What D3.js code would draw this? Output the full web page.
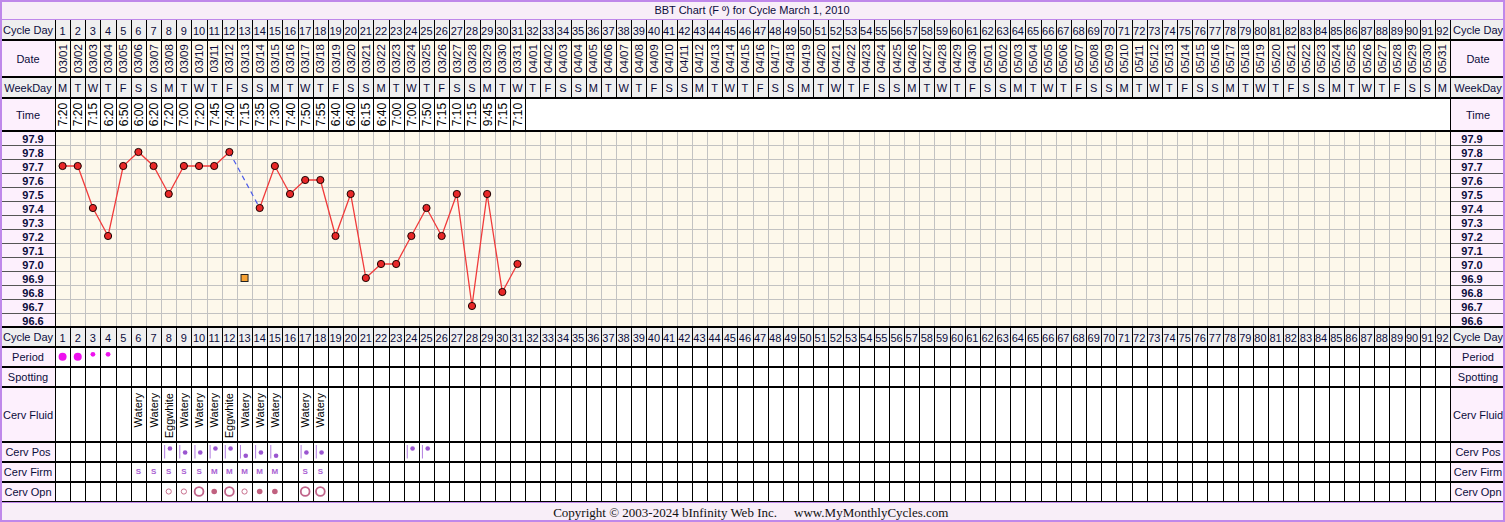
<!DOCTYPE html>
<html>
<head>
<meta charset="utf-8">
<script src="https://cdn.jsdelivr.net/npm/d3@7"></script>
<style>
  html, body { margin: 0; padding: 0; background: #fff; }
  svg { display: block; font-family: "Liberation Sans", Arial, sans-serif; }
</style>
</head>
<body>
<svg id="chart" width="1505" height="522"></svg>
<script>
// ---- Chart data -------------------------------------------------------
const title = "BBT Chart (F º) for Cycle March 1, 2010";
const cycleDays = d3.range(1, 93);
const dates = [
  "03/01","03/02","03/03","03/04","03/05","03/06","03/07","03/08","03/09","03/10",
  "03/11","03/12","03/13","03/14","03/15","03/16","03/17","03/18","03/19","03/20",
  "03/21","03/22","03/23","03/24","03/25","03/26","03/27","03/28","03/29","03/30","03/31",
  "04/01","04/02","04/03","04/04","04/05","04/06","04/07","04/08","04/09","04/10",
  "04/11","04/12","04/13","04/14","04/15","04/16","04/17","04/18","04/19","04/20",
  "04/21","04/22","04/23","04/24","04/25","04/26","04/27","04/28","04/29","04/30",
  "05/01","05/02","05/03","05/04","05/05","05/06","05/07","05/08","05/09","05/10",
  "05/11","05/12","05/13","05/14","05/15","05/16","05/17","05/18","05/19","05/20",
  "05/21","05/22","05/23","05/24","05/25","05/26","05/27","05/28","05/29","05/30","05/31"
];
const weekDays = "MTWTFSSMTWTFSSMTWTFSSMTWTFSSMTWTFSSMTWTFSSMTWTFSSMTWTFSSMTWTFSSMTWTFSSMTWTFSSMTWTFSSMTWTFSSM".split("");
const times = [
  "7:20","7:20","7:15","6:20","6:50","6:00","6:20","7:20","7:00","7:20",
  "7:45","7:40","7:15","7:35","7:30","7:40","7:50","7:55","6:40","6:40",
  "6:15","6:40","7:00","7:00","7:50","7:15","7:10","7:15","9:45","7:15","7:10"
];
const tempTicks = ["97.9","97.8","97.7","97.6","97.5","97.4","97.3","97.2","97.1","97.0","96.9","96.8","96.7","96.6"];
// temperature per cycle day (null = not used in the line)
const temps = [
  97.7, 97.7, 97.4, 97.2, 97.7, 97.8, 97.7, 97.5, 97.7, 97.7,
  97.7, 97.8, null, 97.4, 97.7, 97.5, 97.6, 97.6, 97.2, 97.5,
  96.9, 97.0, 97.0, 97.2, 97.4, 97.2, 97.5, 96.7, 97.5, 96.8, 97.0
];
const excludedTemps = [{ day: 13, temp: 96.9 }];
const periodDays = [{ day: 1, flow: "heavy" }, { day: 2, flow: "heavy" }, { day: 3, flow: "light" }, { day: 4, flow: "light" }];
const cervFluid = [
  { day: 6, v: "Watery" }, { day: 7, v: "Watery" }, { day: 8, v: "Eggwhite" }, { day: 9, v: "Watery" },
  { day: 10, v: "Watery" }, { day: 11, v: "Watery" }, { day: 12, v: "Eggwhite" }, { day: 13, v: "Watery" },
  { day: 14, v: "Watery" }, { day: 15, v: "Watery" }, { day: 17, v: "Watery" }, { day: 18, v: "Watery" }
];
const cervPos = [
  { day: 8, v: "high" }, { day: 9, v: "mid" }, { day: 10, v: "mid" }, { day: 11, v: "high" },
  { day: 12, v: "high" }, { day: 13, v: "low" }, { day: 14, v: "mid" }, { day: 15, v: "low" },
  { day: 17, v: "mid" }, { day: 18, v: "mid" }, { day: 24, v: "high" }, { day: 25, v: "high" }
];
const cervFirm = [
  { day: 6, v: "S" }, { day: 7, v: "S" }, { day: 8, v: "S" }, { day: 9, v: "S" }, { day: 10, v: "S" },
  { day: 11, v: "M" }, { day: 12, v: "M" }, { day: 13, v: "M" }, { day: 14, v: "M" }, { day: 15, v: "M" },
  { day: 17, v: "S" }, { day: 18, v: "S" }
];
const cervOpn = [
  { day: 8, v: "small" }, { day: 9, v: "small" }, { day: 10, v: "large" }, { day: 11, v: "closed" },
  { day: 12, v: "large" }, { day: 13, v: "small" }, { day: 14, v: "closed" }, { day: 15, v: "closed" },
  { day: 17, v: "large" }, { day: 18, v: "large" }
];
const copyright = "Copyright © 2003-2024 bInfinity Web Inc.";
const siteName = "www.MyMonthlyCycles.com";

// ---- Layout -----------------------------------------------------------
const W = 1505, H = 522;
const gridL = 55, gridR = 1450, outerR = 1503;
const ink = "#0c0c3c", pink = "#fdf0fd", cream = "#fdf8eb", gray = "#efefef", purple = "#bf88ea";
const tempTop = 131, tempBottom = 327;

const svg = d3.select("#chart");
const x = d3.scaleBand().domain(cycleDays).range([gridL, gridR]).padding(0);
const edge = i => Math.round(gridL + i * x.bandwidth());
const cx = d => x(d) + x.bandwidth() / 2;
const y = d3.scaleLinear().domain([96.55, 97.95]).range([tempBottom, tempTop]);

const rows = [
  { id: "cd",   label: "Cycle Day",  y0: 20,  y1: 40,  lbg: gray, cbg: gray },
  { id: "date", label: "Date",       y0: 40,  y1: 77,  lbg: pink, cbg: cream },
  { id: "wd",   label: "WeekDay",    y0: 77,  y1: 98,  lbg: gray, cbg: gray },
  { id: "time", label: "Time",       y0: 98,  y1: 131, lbg: pink, cbg: "#fff", upTo: times.length },
  { id: "cd2",  label: "Cycle Day",  y0: 327, y1: 347, lbg: gray, cbg: gray },
  { id: "per",  label: "Period",     y0: 347, y1: 367, lbg: pink, cbg: "#fff" },
  { id: "spot", label: "Spotting",   y0: 367, y1: 387, lbg: pink, cbg: "#fff" },
  { id: "cf",   label: "Cerv Fluid", y0: 387, y1: 442, lbg: pink, cbg: "#fff" },
  { id: "cp",   label: "Cerv Pos",   y0: 442, y1: 462, lbg: pink, cbg: "#fff" },
  { id: "cfi",  label: "Cerv Firm",  y0: 462, y1: 482, lbg: pink, cbg: "#fff" },
  { id: "co",   label: "Cerv Opn",   y0: 482, y1: 502, lbg: pink, cbg: "#fff" }
];

// page background, title bar and footer
svg.append("rect").attr("width", W).attr("height", H).attr("fill", "#fff");
svg.append("rect").attr("x", 0).attr("y", 0).attr("width", W).attr("height", 20).attr("fill", "#f8eef8");
svg.append("rect").attr("x", 0).attr("y", 502).attr("width", W).attr("height", 20).attr("fill", "#f8eef8");

// table rows: label cells and day cells
const gRows = svg.append("g");
rows.forEach(r => {
  gRows.append("rect").attr("x", 2).attr("y", r.y0).attr("width", gridL - 2).attr("height", r.y1 - r.y0).attr("fill", r.lbg);
  gRows.append("rect").attr("x", gridR).attr("y", r.y0).attr("width", outerR - gridR).attr("height", r.y1 - r.y0).attr("fill", r.lbg);
  gRows.append("rect").attr("x", gridL).attr("y", r.y0).attr("width", gridR - gridL).attr("height", r.y1 - r.y0).attr("fill", r.cbg);
  [28, 1478].forEach(lx => {
    gRows.append("text").attr("x", lx).attr("y", (r.y0 + r.y1) / 2 + 4)
      .attr("text-anchor", "middle").attr("font-size", 11).attr("fill", ink).text(r.label);
  });
});

// temperature area
svg.append("rect").attr("x", gridL).attr("y", tempTop).attr("width", gridR - gridL).attr("height", tempBottom - tempTop).attr("fill", cream);
svg.append("rect").attr("x", 2).attr("y", tempTop).attr("width", gridL - 2).attr("height", tempBottom - tempTop).attr("fill", pink);
svg.append("rect").attr("x", gridR).attr("y", tempTop).attr("width", outerR - gridR).attr("height", tempBottom - tempTop).attr("fill", pink);

const gGrid = svg.append("g").attr("stroke", "#c2c2c2").attr("stroke-width", 1).attr("shape-rendering", "crispEdges");
d3.range(0, 93).forEach(i => {
  gGrid.append("line").attr("x1", edge(i) + 0.5).attr("x2", edge(i) + 0.5).attr("y1", tempTop).attr("y2", tempBottom);
});
tempTicks.forEach((t, k) => {
  const yy = Math.round(y(+t - 0.05)) + 0.5;
  if (k < tempTicks.length - 1)
    gGrid.append("line").attr("x1", gridL).attr("x2", gridR).attr("y1", yy).attr("y2", yy);
});
// temperature tick labels on both sides
const gTicks = svg.append("g");
tempTicks.forEach((t, k) => {
  const yy = Math.round(y(+t - 0.05)) + 0.5;
  if (k < tempTicks.length - 1) {
    gTicks.append("line").attr("x1", 2).attr("x2", gridL).attr("y1", yy).attr("y2", yy).attr("stroke", "#555").attr("shape-rendering", "crispEdges");
    gTicks.append("line").attr("x1", gridR).attr("x2", outerR).attr("y1", yy).attr("y2", yy).attr("stroke", "#555").attr("shape-rendering", "crispEdges");
  }
  [33, 1472].forEach(lx => {
    gTicks.append("text").attr("x", lx).attr("y", y(+t) + 4.5).attr("text-anchor", "middle")
      .attr("font-size", 11).attr("font-weight", "bold").attr("fill", ink).text(t);
  });
});

// vertical cell separators in table rows
const gV = svg.append("g").attr("stroke", "#000").attr("stroke-width", 1).attr("shape-rendering", "crispEdges");
rows.forEach(r => {
  const n = r.upTo || 92;
  d3.range(0, n + 1).forEach(i => {
    gV.append("line").attr("x1", edge(i) + 0.5).attr("x2", edge(i) + 0.5).attr("y1", r.y0).attr("y2", r.y1);
  });
  gV.append("line").attr("x1", gridR + 0.5).attr("x2", gridR + 0.5).attr("y1", r.y0).attr("y2", r.y1);
});
gV.append("line").attr("x1", gridL + 0.5).attr("x2", gridL + 0.5).attr("y1", tempTop).attr("y2", tempBottom);
gV.append("line").attr("x1", gridR + 0.5).attr("x2", gridR + 0.5).attr("y1", tempTop).attr("y2", tempBottom);

// horizontal row borders
const gH = svg.append("g").attr("stroke", "#000").attr("stroke-width", 2).attr("shape-rendering", "crispEdges");
[40, 77, 98, 131, 327, 347, 367, 387, 442, 462, 482].forEach(yy => {
  gH.append("line").attr("x1", 2).attr("x2", outerR).attr("y1", yy).attr("y2", yy);
});
gH.append("line").attr("x1", 2).attr("x2", outerR).attr("y1", 501).attr("y2", 501).attr("stroke-width", 1);

// ---- header contents ----
const txt = (g, xx, yy, s, size) => g.append("text").attr("x", xx).attr("y", yy).attr("text-anchor", "middle")
  .attr("font-size", size).attr("fill", ink).text(s);
const gHead = svg.append("g");
cycleDays.forEach((d, i) => {
  txt(gHead, cx(d), 34.5, d, 11);
  txt(gHead, cx(d), 341.5, d, 11);
  txt(gHead, cx(d), 92, weekDays[i], 11);
  gHead.append("text").attr("transform", `translate(${cx(d) + 4},58.5) rotate(-90)`)
    .attr("text-anchor", "middle").attr("font-size", 11.5).attr("fill", ink).text(dates[i]);
});
times.forEach((t, i) => {
  const d = cycleDays[i];
  gHead.append("text").attr("transform", `translate(${cx(d) + 4.5},114.5) rotate(-90)`)
    .attr("text-anchor", "middle").attr("font-size", 12).attr("fill", "#000").text(t);
});

// ---- temperature line ----
const tempPts = temps.map((t, i) => ({ day: cycleDays[i], temp: t }));
const valid = tempPts.filter(p => p.temp !== null);
const gPlot = svg.append("g");
// dashed connector across skipped days
for (let i = 0; i < tempPts.length - 1; i++) {
  if (tempPts[i].temp !== null && tempPts[i + 1].temp === null) {
    const next = tempPts.slice(i + 1).find(p => p.temp !== null);
    if (next) {
      gPlot.append("line").attr("x1", cx(tempPts[i].day)).attr("y1", y(tempPts[i].temp))
        .attr("x2", cx(next.day)).attr("y2", y(next.temp))
        .attr("stroke", "#4a5ae8").attr("stroke-width", 1.2).attr("stroke-dasharray", "5,4");
    }
  }
}
const line = d3.line().defined(p => p.temp !== null).x(p => cx(p.day)).y(p => y(p.temp));
gPlot.append("path").attr("d", line(tempPts)).attr("fill", "none").attr("stroke", "#f03a3a").attr("stroke-width", 1.3);
gPlot.selectAll("circle.t").data(valid).join("circle").attr("class", "t")
  .attr("cx", p => cx(p.day)).attr("cy", p => y(p.temp)).attr("r", 3.6)
  .attr("fill", "#e82828").attr("stroke", "#1a0000").attr("stroke-width", 1);
gPlot.selectAll("rect.ex").data(excludedTemps).join("rect").attr("class", "ex")
  .attr("x", p => cx(p.day) - 3.5).attr("y", p => y(p.temp) - 3.5).attr("width", 7).attr("height", 7)
  .attr("fill", "#f7a233").attr("stroke", "#222").attr("stroke-width", 1);

// ---- period ----
const gPer = svg.append("g").attr("fill", "#ee11ee");
periodDays.forEach(p => {
  const heavy = p.flow === "heavy";
  gPer.append("circle").attr("cx", cx(p.day)).attr("cy", heavy ? 356.7 : 354.3).attr("r", heavy ? 4 : 2.4);
});

// ---- cervical fluid ----
const gCF = svg.append("g");
cervFluid.forEach(c => {
  gCF.append("text").attr("transform", `translate(${cx(c.day) + 4},393) rotate(-90)`)
    .attr("text-anchor", "end").attr("font-size", 11).attr("fill", "#000").text(c.v);
});

// ---- cervical position ----
const posY = { high: 448.5, mid: 452.5, low: 455.8 };
const gCP = svg.append("g");
cervPos.forEach(c => {
  const l = x(c.day);
  gCP.append("line").attr("x1", l + 3.5).attr("x2", l + 3.5).attr("y1", 445).attr("y2", 458.5)
    .attr("stroke", "#b27ee0").attr("stroke-width", 1);
  gCP.append("circle").attr("cx", l + 8.8).attr("cy", posY[c.v]).attr("r", 2.3).attr("fill", "#9a55d0");
});

// ---- cervical firmness ----
const gFi = svg.append("g");
cervFirm.forEach(c => {
  gFi.append("text").attr("x", cx(c.day)).attr("y", 474).attr("text-anchor", "middle")
    .attr("font-size", 8).attr("font-weight", "bold").attr("fill", "#a860d2").text(c.v);
});

// ---- cervical opening ----
const gOp = svg.append("g");
cervOpn.forEach(c => {
  const o = gOp.append("circle").attr("cx", cx(c.day)).attr("cy", 491.5);
  if (c.v === "small") o.attr("r", 2.6).attr("fill", "none").attr("stroke", "#c8708e").attr("stroke-width", 1);
  else if (c.v === "large") o.attr("r", 4.4).attr("fill", "none").attr("stroke", "#c0648a").attr("stroke-width", 1.8);
  else o.attr("r", 2.8).attr("fill", "#c0607f");
});

// ---- titles ----
svg.append("text").attr("x", 752).attr("y", 14).attr("text-anchor", "middle")
  .attr("font-size", 11).attr("fill", ink).text(title);
svg.append("text").attr("x", 777).attr("y", 516.5).attr("text-anchor", "end")
  .attr("font-family", "'Liberation Serif', 'Times New Roman', serif").attr("font-size", 13).attr("fill", "#111").text(copyright);
svg.append("text").attr("x", 794).attr("y", 516.5).attr("text-anchor", "start")
  .attr("font-family", "'Liberation Serif', 'Times New Roman', serif").attr("font-size", 13).attr("fill", "#111").text(siteName);

// outer frame
svg.append("line").attr("x1", 0).attr("x2", W).attr("y1", 19.5).attr("y2", 19.5).attr("stroke", purple).attr("stroke-width", 1);
svg.append("line").attr("x1", 0).attr("x2", W).attr("y1", 502.5).attr("y2", 502.5).attr("stroke", purple).attr("stroke-width", 1);
svg.append("rect").attr("x", 1).attr("y", 1).attr("width", W - 2).attr("height", H - 2)
  .attr("fill", "none").attr("stroke", purple).attr("stroke-width", 2);
</script>
</body>
</html>
